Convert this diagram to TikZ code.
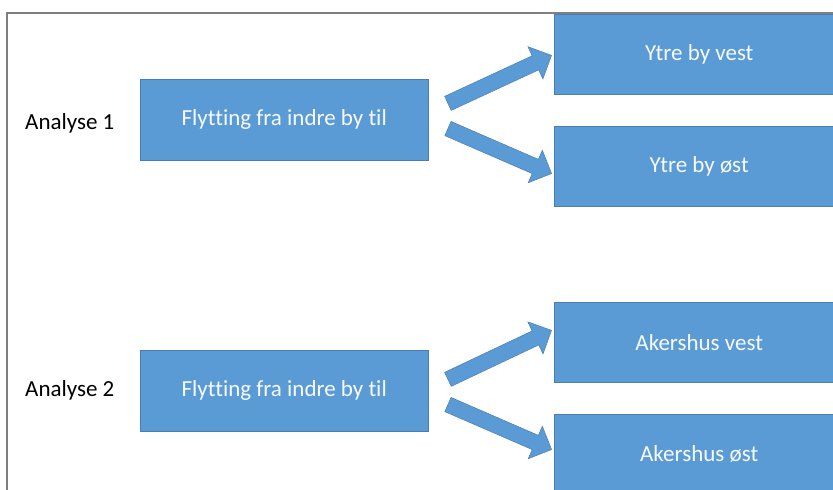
\documentclass[tikz,border=0pt]{standalone}
\usepackage{fontspec}
\setmainfont{Carlito}[Ligatures=NoCommon]
\usetikzlibrary{shapes.arrows, calc}

\definecolor{boxblue}{HTML}{5B9BD5}
\definecolor{boxline}{HTML}{4A7EB0}
\definecolor{framegray}{HTML}{7F7F7F}

\begin{document}
\begin{tikzpicture}[
    x=1pt, y=-1pt,
    mainbox/.style={rectangle, draw=boxline, fill=boxblue, minimum width=288pt, minimum height=81pt, align=center, font=\fontsize{23}{27}\selectfont, text=white!95!boxblue, anchor=north west, inner sep=0pt},
    destbox/.style={mainbox, minimum width=290pt, minimum height=80pt},
    caption/.style={font=\fontsize{23}{27}\selectfont, anchor=west, inner sep=0pt},
    blockarrow/.style={single arrow, draw=boxline, fill=boxblue, inner xsep=0pt, inner ysep=7.5pt, single arrow head extend=10pt, line width=0.5pt}
]
    \useasboundingbox (0,0) rectangle (833,490);
    % Frame
    \draw[framegray, line width=2pt] (7,491) -- (7,13) -- (834,13);

    % Analyse 1
    \node[caption] (ana1) at (25,123) {Analyse 1};
    \node[mainbox] (src1) at (140,79) {Flytting fra indre by til};
    \node[destbox] (vest1) at (554,14) {Ytre by vest};
    \node[destbox] (ost1) at (554,126) {Ytre by øst};

    % Analyse 2
    \node[caption] (ana2) at (25,390) {Analyse 2};
    \node[mainbox] (src2) at (140,350) {Flytting fra indre by til};
    \node[destbox] (vest2) at (554,302) {Akershus vest};
    \node[destbox] (ost2) at (554,414) {Akershus øst};

    % Arrow ends
    \coordinate (t1) at ($(src1.north east)+(16,26)$);
    \coordinate (h1) at ($(vest1.north west)+(-6,43)$);
    \coordinate (t2) at ($(src1.north east)+(16,48)$);
    \coordinate (h2) at ($(ost1.north west)+(-6,46)$);
    \coordinate (t3) at ($(src2.north east)+(16,31)$);
    \coordinate (h3) at ($(vest2.north west)+(-6,30)$);
    \coordinate (t4) at ($(src2.north east)+(16,53)$);
    \coordinate (h4) at ($(ost2.north west)+(-6,34)$);

    % Block arrows
    \foreach \a/\b in {t1/h1, t2/h2, t3/h3, t4/h4}
        \path let \p1=($(\b)-(\a)$) in
            node[blockarrow, rotate={atan2(\y1,\x1)}, minimum height={veclen(\x1,\y1)}] at ($(\a)!0.5!(\b)$) {};
\end{tikzpicture}
\end{document}
